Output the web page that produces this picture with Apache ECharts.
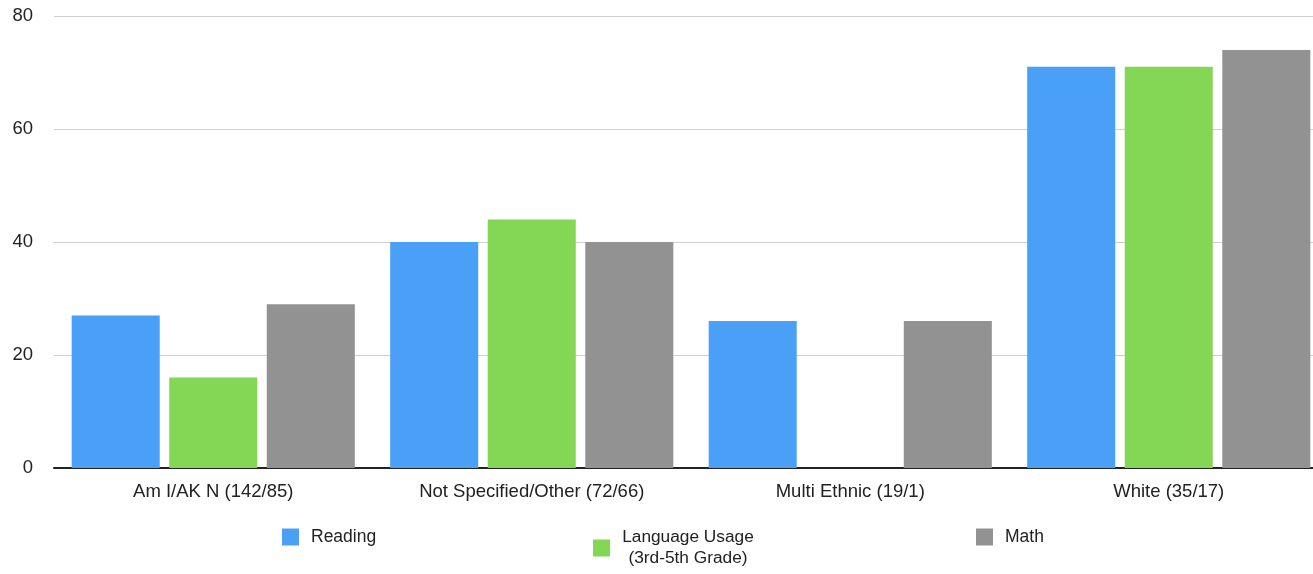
<!DOCTYPE html>
<html><head><meta charset="utf-8">
<script src="https://cdn.jsdelivr.net/npm/echarts@6/dist/echarts.min.js"></script>
<style>html,body{margin:0;padding:0;background:#fff}#c{width:1313px;height:574px}</style>
</head><body><div id="c"></div>
<script>
const categories = ['Am I/AK N (142/85)', 'Not Specified/Other (72/66)', 'Multi Ethnic (19/1)', 'White (35/17)'];
const reading = [27, 40, 26, 71];
const language = [16, 44, null, 71];
const math = [29, 40, 26, 74];
const yTicks = [0, 20, 40, 60, 80];
const seriesNames = ['Reading', 'Language Usage\n(3rd-5th Grade)', 'Math'];
const colors = ['#4aa0f6', '#84d655', '#929292'];

const font = '"Liberation Sans", Arial, sans-serif';
const chart = echarts.init(document.getElementById('c'));
const legendBase = {
  orient: 'horizontal', itemWidth: 17, itemHeight: 17, icon: 'rect', padding: 0,
  textStyle: { fontSize: 17.5, color: '#222', fontFamily: font, padding: [0, 0, 0, 7], lineHeight: 20 },
  selectedMode: false
};
chart.setOption({
  animation: false,
  textStyle: { fontFamily: font },
  grid: { left: 54, width: 1274, top: 16, bottom: 106, containLabel: false, outerBoundsMode: 'none' },
  legend: [
    Object.assign({}, legendBase, { left: 282, top: 527, data: [seriesNames[0]] }),
    Object.assign({}, legendBase, {
      left: 593, top: 527, data: [seriesNames[1]],
      formatter: function (name) {
        return name.split('\n').map(function (s) { return '{a|' + s + '}'; }).join('\n');
      },
      textStyle: {
        fontSize: 17.5, color: '#222', fontFamily: font, padding: [0, 0, 0, 7], lineHeight: 21,
        rich: { a: { width: 132, align: 'center', fontSize: 17.3, lineHeight: 21, color: '#222', fontFamily: font } }
      }
    }),
    Object.assign({}, legendBase, { left: 976, top: 527, data: [seriesNames[2]] })
  ],
  xAxis: {
    type: 'category', data: categories,
    axisTick: { show: false },
    axisLine: { lineStyle: { color: '#222', width: 2 } },
    axisLabel: { fontSize: 18.5, color: '#222', margin: 14, fontFamily: font }
  },
  yAxis: {
    type: 'value', min: yTicks[0], max: yTicks[yTicks.length - 1], interval: 20,
    axisLabel: { fontSize: 18.5, color: '#222', margin: 21, fontFamily: font },
    splitLine: { lineStyle: { color: '#cfcfcf', width: 1 } },
    axisLine: { show: false }, axisTick: { show: false }
  },
  series: [
    { name: seriesNames[0], type: 'bar', data: reading, itemStyle: { color: colors[0] }, barGap: '10.8%', barCategoryGap: '11.1%' },
    { name: seriesNames[1], type: 'bar', data: language, itemStyle: { color: colors[1] } },
    { name: seriesNames[2], type: 'bar', data: math, itemStyle: { color: colors[2] } }
  ]
});
</script></body></html>
